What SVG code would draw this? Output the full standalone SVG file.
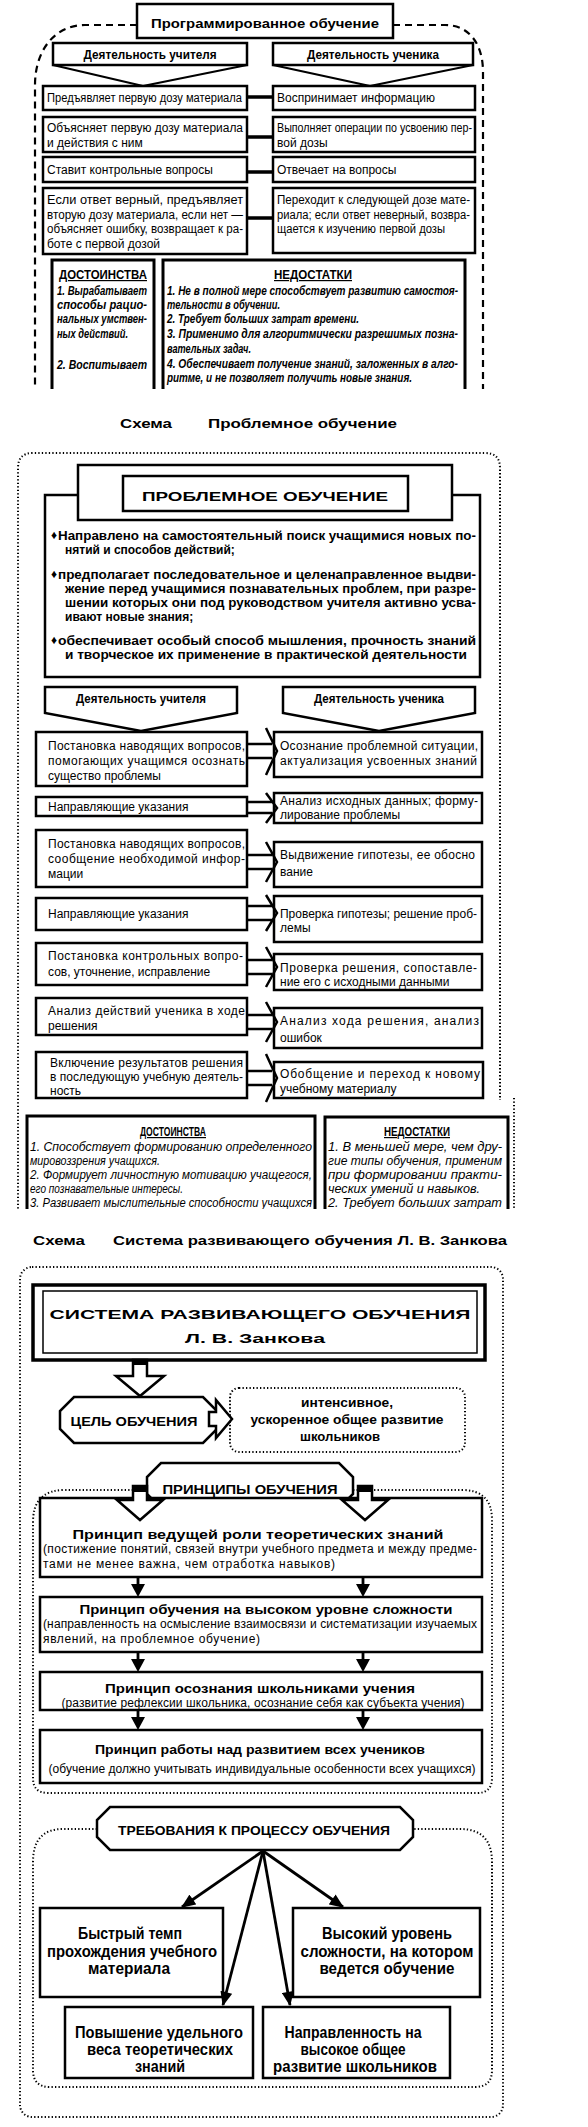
<svg xmlns="http://www.w3.org/2000/svg" width="588" height="2127" viewBox="0 0 588 2127">
<style>
text{font-family:"Liberation Sans",Arial,sans-serif;fill:#000;font-size:12px}
.b{font-weight:bold}
.i{font-style:italic}
.m{text-anchor:middle}
.u{text-decoration:underline}
.box{fill:#fff;stroke:#000;stroke-width:2.5}
.thin{fill:none;stroke:#000;stroke-width:1.5}
.open{fill:none;stroke:#000;stroke-width:3}
.dash{fill:none;stroke:#000;stroke-width:2.2;stroke-dasharray:7 5}
.dot{fill:none;stroke:#000;stroke-width:2;stroke-dasharray:1.3 2.2}
.ln{fill:none;stroke:#000;stroke-width:3.5}
.tl{fill:none;stroke:#000;stroke-width:2}
.ch{fill:none;stroke:#000;stroke-width:2.5;stroke-linejoin:miter}
.hol{fill:#fff;stroke:#000;stroke-width:2.5;stroke-linejoin:miter}
.blk{fill:#000;stroke:none}
.ar{fill:none;stroke:#000;stroke-width:2.8}
.q{font-size:16.5px;font-weight:bold;text-anchor:middle}
</style>
<defs>
<clipPath id="c1"><rect x="0" y="0" width="588" height="389"/></clipPath>
<clipPath id="c2"><rect x="0" y="440" width="588" height="769"/></clipPath>
<marker id="ah" viewBox="0 0 12 10" refX="11" refY="5" markerWidth="15" markerHeight="12" markerUnits="userSpaceOnUse" orient="auto"><path d="M0,0 L12,5 L0,10 z" fill="#000"/></marker>
</defs>
<rect x="0" y="0" width="588" height="2127" fill="#fff"/>

<!-- ================= SECTION 1 ================= -->
<g id="sec1" clip-path="url(#c1)">
<path class="dash" d="M137,25 H85 C55,25 35,50 35,85 V389"/>
<path class="dash" d="M393,25 H445 C470,25 483,45 483,72 V389"/>
<g id="s1-title"><rect class="box" x="137" y="4" width="256" height="34"/><text class="b m" x="265" y="27.5" font-size="16" textLength="228" lengthAdjust="spacingAndGlyphs">Программированное обучение</text></g>
<g id="s1-teacher"><rect class="box" x="53" y="43" width="194" height="22"/><text class="b m" x="150" y="58.5" textLength="133" lengthAdjust="spacingAndGlyphs">Деятельность учителя</text></g>
<g id="s1-student"><rect class="box" x="273" y="43" width="200" height="22"/><text class="b m" x="373" y="58.5" textLength="132" lengthAdjust="spacingAndGlyphs">Деятельность ученика</text></g>

<g id="s1-l1"><rect class="box" x="43" y="86" width="204" height="24"/><text x="47" y="101.5" textLength="195" lengthAdjust="spacingAndGlyphs">Предъявляет первую дозу материала</text></g>
<g id="s1-r1"><rect class="box" x="273" y="86" width="202" height="24"/><text x="277" y="101.5">Воспринимает информацию</text></g>
<g id="s1-l2"><rect class="box" x="43" y="117" width="204" height="35"/><text x="47" y="132" textLength="196" lengthAdjust="spacingAndGlyphs">Объясняет первую дозу материала</text><text x="47" y="147">и действия с ним</text></g>
<g id="s1-r2"><rect class="box" x="273" y="117" width="202" height="35"/><text x="277" y="132" textLength="195" lengthAdjust="spacingAndGlyphs">Выполняет операции по усвоению пер-</text><text x="277" y="147">вой дозы</text></g>
<g id="s1-l3"><rect class="box" x="43" y="157" width="204" height="25"/><text x="47" y="174">Ставит контрольные вопросы</text></g>
<g id="s1-r3"><rect class="box" x="273" y="157" width="202" height="25"/><text x="277" y="174">Отвечает на вопросы</text></g>
<g id="s1-l4"><rect class="box" x="43" y="188" width="204" height="66"/>
<text x="47" y="204" textLength="196" lengthAdjust="spacingAndGlyphs">Если ответ верный, предъявляет</text>
<text x="47" y="218.5" textLength="196" lengthAdjust="spacingAndGlyphs">вторую дозу материала, если нет —</text>
<text x="47" y="233" textLength="196" lengthAdjust="spacingAndGlyphs">объясняет ошибку, возвращает к ра-</text>
<text x="47" y="247.5">боте с первой дозой</text></g>
<g id="s1-r4"><rect class="box" x="273" y="188" width="202" height="65"/>
<text x="277" y="204" textLength="193" lengthAdjust="spacingAndGlyphs">Переходит к следующей дозе мате-</text>
<text x="277" y="218.5" textLength="193" lengthAdjust="spacingAndGlyphs">риала; если ответ неверный, возвра-</text>
<text x="277" y="233" textLength="168" lengthAdjust="spacingAndGlyphs">щается к изучению первой дозы</text></g>

<g id="s1-pros"><path class="open" d="M52,392 V260 H154 V392"/>
<text class="b m u" x="103" y="279" font-size="12.5" textLength="88" lengthAdjust="spacingAndGlyphs">ДОСТОИНСТВА</text>
<text class="b i" x="57" y="295" textLength="90" lengthAdjust="spacingAndGlyphs">1. Вырабатывает</text>
<text class="b i" x="57" y="309" textLength="90" lengthAdjust="spacingAndGlyphs">способы рацио-</text>
<text class="b i" x="57" y="323" textLength="90" lengthAdjust="spacingAndGlyphs">нальных умствен-</text>
<text class="b i" x="57" y="338" textLength="71" lengthAdjust="spacingAndGlyphs">ных действий.</text>
<text class="b i" x="57" y="369" textLength="90" lengthAdjust="spacingAndGlyphs">2. Воспитывает</text>
</g>
<g id="s1-cons"><path class="open" d="M163,392 V260 H465 V392"/>
<text class="b m u" x="313" y="279" font-size="12.5" textLength="78" lengthAdjust="spacingAndGlyphs">НЕДОСТАТКИ</text>
<text class="b i" x="167" y="295" textLength="291" lengthAdjust="spacingAndGlyphs">1. Не в полной мере способствует развитию самостоя-</text>
<text class="b i" x="167" y="309" textLength="113" lengthAdjust="spacingAndGlyphs">тельности в обучении.</text>
<text class="b i" x="167" y="323" textLength="192" lengthAdjust="spacingAndGlyphs">2. Требует больших затрат времени.</text>
<text class="b i" x="167" y="338" textLength="291" lengthAdjust="spacingAndGlyphs">3. Применимо для алгоритмически разрешимых позна-</text>
<text class="b i" x="167" y="353" textLength="84" lengthAdjust="spacingAndGlyphs">вательных задач.</text>
<text class="b i" x="167" y="368" textLength="291" lengthAdjust="spacingAndGlyphs">4. Обеспечивает получение знаний, заложенных в алго-</text>
<text class="b i" x="167" y="382" textLength="245" lengthAdjust="spacingAndGlyphs">ритме, и не позволяет получить новые знания.</text>
</g>
</g>

<g id="caption1">
<text class="b" x="120" y="428" font-size="20" textLength="52" lengthAdjust="spacingAndGlyphs">Схема</text>
<text class="b" x="208" y="428" font-size="20" textLength="189" lengthAdjust="spacingAndGlyphs">Проблемное обучение</text>
</g>

<!-- ================= SECTION 2 ================= -->
<g id="sec2" clip-path="url(#c2)">
<path class="dot" d="M18,1212 V468 Q18,453 33,453 H485 Q500,453 500,468 V1100"/>
<path class="dot" d="M514,1098 V1212"/>

<g id="s2-features"><rect class="box" x="45" y="495" width="435" height="182"/>
<text x="51" y="539" font-size="8">♦</text>
<text class="b" x="58" y="539.5" textLength="418" lengthAdjust="spacingAndGlyphs">Направлено на самостоятельный поиск учащимися новых по-</text>
<text class="b" x="65" y="554">нятий и способов действий;</text>
<text x="51" y="578" font-size="8">♦</text>
<text class="b" x="58" y="578.5" textLength="418" lengthAdjust="spacingAndGlyphs">предполагает последовательное и целенаправленное выдви-</text>
<text class="b" x="65" y="592.5" textLength="411" lengthAdjust="spacingAndGlyphs">жение перед учащимися познавательных проблем, при разре-</text>
<text class="b" x="65" y="606.5" textLength="411" lengthAdjust="spacingAndGlyphs">шении которых они под руководством учителя активно усва-</text>
<text class="b" x="65" y="620.5">ивают новые знания;</text>
<text x="51" y="644" font-size="8">♦</text>
<text class="b" x="58" y="644.5" textLength="418" lengthAdjust="spacingAndGlyphs">обеспечивает особый способ мышления, прочность знаний</text>
<text class="b" x="65" y="658.5" textLength="402" lengthAdjust="spacingAndGlyphs">и творческое их применение в практической деятельности</text>
</g>
<g id="s2-title"><rect class="box" x="78" y="465" width="374" height="55"/><rect class="box" x="123" y="476" width="285" height="35"/>
<text class="b m" x="265" y="501" font-size="21" textLength="246" lengthAdjust="spacingAndGlyphs">ПРОБЛЕМНОЕ ОБУЧЕНИЕ</text></g>

<g id="s2-teacher"><path class="box" d="M45,687 H237 V713 L141,731 L45,713 Z"/><text class="b m" x="141" y="703" textLength="130" lengthAdjust="spacingAndGlyphs">Деятельность учителя</text></g>
<g id="s2-student"><path class="box" d="M283,687 H475 V713 L379,731 L283,713 Z"/><text class="b m" x="379" y="703" textLength="130" lengthAdjust="spacingAndGlyphs">Деятельность ученика</text></g>

<g id="s2-l1"><rect class="box" x="36" y="732" width="211" height="54"/>
<text x="48" y="749.5" textLength="197" lengthAdjust="spacing">Постановка наводящих вопросов,</text>
<text x="48" y="764.5" textLength="197" lengthAdjust="spacing">помогающих учащимся осознать</text>
<text x="48" y="779.5">существо проблемы</text></g>
<g id="s2-r1"><rect class="box" x="274" y="732" width="208" height="45"/>
<text x="280" y="749.5" textLength="198" lengthAdjust="spacing">Осознание проблемной ситуации,</text>
<text x="280" y="764.5" textLength="197" lengthAdjust="spacing">актуализация усвоенных знаний</text></g>

<g id="s2-l2"><rect class="box" x="36" y="797" width="211" height="19"/>
<text x="48" y="811">Направляющие указания</text></g>
<g id="s2-r2"><rect class="box" x="274" y="793" width="208" height="30"/>
<text x="280" y="804.5" textLength="198" lengthAdjust="spacing">Анализ исходных данных; форму-</text>
<text x="280" y="819">лирование проблемы</text></g>

<g id="s2-l3"><rect class="box" x="36" y="830" width="211" height="57"/>
<text x="48" y="847.5" textLength="197" lengthAdjust="spacing">Постановка наводящих вопросов,</text>
<text x="48" y="862.5" textLength="197" lengthAdjust="spacing">сообщение необходимой инфор-</text>
<text x="48" y="877.5">мации</text></g>
<g id="s2-r3"><rect class="box" x="274" y="842" width="208" height="45"/>
<text x="280" y="858.5" textLength="195" lengthAdjust="spacing">Выдвижение гипотезы, ее обосно</text>
<text x="280" y="875.5">вание</text></g>

<g id="s2-l4"><rect class="box" x="36" y="898" width="211" height="32"/>
<text x="48" y="917.5">Направляющие указания</text></g>
<g id="s2-r4"><rect class="box" x="274" y="896" width="208" height="46"/>
<text x="280" y="917.5" textLength="197" lengthAdjust="spacing">Проверка гипотезы; решение проб-</text>
<text x="280" y="931.5">лемы</text></g>

<g id="s2-l5"><rect class="box" x="36" y="943" width="211" height="42"/>
<text x="48" y="959.5" textLength="195" lengthAdjust="spacing">Постановка контрольных вопро-</text>
<text x="48" y="975.5">сов, уточнение, исправление</text></g>
<g id="s2-r5"><rect class="box" x="274" y="954" width="208" height="36"/>
<text x="280" y="971.5" textLength="197" lengthAdjust="spacing">Проверка решения, сопоставле-</text>
<text x="280" y="985.5">ние его с исходными данными</text></g>

<g id="s2-l6"><rect class="box" x="36" y="998" width="211" height="37"/>
<text x="48" y="1014.5" textLength="197" lengthAdjust="spacing">Анализ действий ученика в ходе</text>
<text x="48" y="1029.5">решения</text></g>
<g id="s2-r6"><rect class="box" x="274" y="1008" width="208" height="40"/>
<text x="280" y="1024.5" textLength="199" lengthAdjust="spacing">Анализ хода решения, анализ</text>
<text x="280" y="1041.5">ошибок</text></g>

<g id="s2-l7"><rect class="box" x="36" y="1052" width="211" height="46"/>
<text x="50" y="1067" textLength="193" lengthAdjust="spacing">Включение результатов решения</text>
<text x="50" y="1081" textLength="193" lengthAdjust="spacing">в последующую учебную деятель-</text>
<text x="50" y="1095">ность</text></g>
<g id="s2-r7"><rect class="box" x="274" y="1062" width="209" height="36"/>
<text x="280" y="1077.5" textLength="200" lengthAdjust="spacing">Обобщение и переход к новому</text>
<text x="280" y="1092.5">учебному материалу</text></g>

<g id="s2-pros"><path class="open" d="M27,1215 V1116 H315 V1215"/>
<text class="b m u" x="173" y="1136" font-size="12" textLength="66" lengthAdjust="spacingAndGlyphs">ДОСТОИНСТВА</text>
<text class="i" x="30" y="1151" font-size="11.5" textLength="282" lengthAdjust="spacingAndGlyphs">1. Способствует формированию определенного</text>
<text class="i" x="30" y="1164.5" font-size="11.5" textLength="130" lengthAdjust="spacingAndGlyphs">мировоззрения учащихся.</text>
<text class="i" x="30" y="1179" font-size="11.5" textLength="282" lengthAdjust="spacingAndGlyphs">2. Формирует личностную мотивацию учащегося,</text>
<text class="i" x="30" y="1192.5" font-size="11.5" textLength="153" lengthAdjust="spacingAndGlyphs">его познавательные интересы.</text>
<text class="i" x="30" y="1207" font-size="11.5" textLength="282" lengthAdjust="spacingAndGlyphs">3. Развивает мыслительные способности учащихся</text>
</g>
<g id="s2-cons"><path class="open" d="M325,1215 V1117 H508 V1215"/>
<text class="b m u" x="417" y="1136" font-size="12" textLength="66" lengthAdjust="spacingAndGlyphs">НЕДОСТАТКИ</text>
<text class="i" x="328" y="1151" font-size="11.5" textLength="174" lengthAdjust="spacingAndGlyphs">1. В меньшей мере, чем дру-</text>
<text class="i" x="328" y="1164.5" font-size="11.5" textLength="174" lengthAdjust="spacingAndGlyphs">гие типы обучения, применим</text>
<text class="i" x="328" y="1179" font-size="11.5" textLength="174" lengthAdjust="spacingAndGlyphs">при формировании практи-</text>
<text class="i" x="328" y="1192.5" font-size="11.5" textLength="152" lengthAdjust="spacingAndGlyphs">ческих умений и навыков.</text>
<text class="i" x="328" y="1207" font-size="11.5" textLength="174" lengthAdjust="spacingAndGlyphs">2. Требует больших затрат</text>
</g>
</g>

<g id="caption2">
<text class="b" x="33" y="1245" font-size="20" textLength="52" lengthAdjust="spacingAndGlyphs">Схема</text>
<text class="b" x="113" y="1245" font-size="20" textLength="394" lengthAdjust="spacingAndGlyphs">Система развивающего обучения Л. В. Занкова</text>
</g>

<!-- ================= SECTION 3 ================= -->
<g id="sec3">
<rect class="dot" x="20" y="1267" width="483" height="850" rx="12"/>
<g id="s3-title"><rect x="33" y="1285" width="452" height="75" fill="#fff" stroke="#000" stroke-width="3.5"/><rect class="thin" x="43" y="1291" width="434" height="62"/>
<text class="b m" x="260" y="1318.5" font-size="23" textLength="421" lengthAdjust="spacingAndGlyphs">СИСТЕМА РАЗВИВАЮЩЕГО ОБУЧЕНИЯ</text>
<text class="b m" x="255" y="1342.5" font-size="23" textLength="140" lengthAdjust="spacingAndGlyphs">Л. В. Занкова</text></g>

<g id="s3-goal"><path class="box" d="M74,1397 H203 L217,1411 V1429 L203,1443 H74 L60,1429 V1411 Z"/>
<text class="b m" x="134" y="1425.5" font-size="18" textLength="127" lengthAdjust="spacingAndGlyphs">ЦЕЛЬ ОБУЧЕНИЯ</text></g>
<g id="s3-goaltext"><rect class="dot" x="230" y="1388" width="235" height="64" rx="9"/>
<text class="b m" x="347" y="1407" font-size="15" textLength="92" lengthAdjust="spacingAndGlyphs">интенсивное,</text>
<text class="b m" x="347" y="1424" font-size="15" textLength="193" lengthAdjust="spacingAndGlyphs">ускоренное общее развитие</text>
<text class="b m" x="340" y="1441" font-size="15" textLength="80" lengthAdjust="spacingAndGlyphs">школьников</text></g>

<path id="s3-prin-area" class="dot" d="M147,1490 H65 Q33,1490 33,1522 V1778 Q33,1793 48,1793 H477 Q492,1793 492,1778 V1520 Q492,1490 462,1490 H353"/>
<g id="s3-principles"><path class="box" d="M161,1463 H339 L353,1477 V1494 L339,1508 H161 L147,1494 V1477 Z"/>
<text class="b m" x="250" y="1493.5" font-size="18" textLength="175" lengthAdjust="spacingAndGlyphs">ПРИНЦИПЫ ОБУЧЕНИЯ</text></g>

<g id="s3-p1"><rect class="box" x="40" y="1498" width="442" height="79"/>
<text class="b m" x="258" y="1538.5" font-size="17" textLength="371" lengthAdjust="spacingAndGlyphs">Принцип ведущей роли теоретических знаний</text>
<text x="43" y="1552.5" font-size="12.5" textLength="434" lengthAdjust="spacing">(постижение понятий, связей внутри учебного предмета и между предме-</text>
<text x="43" y="1567.5" font-size="12.5" textLength="292" lengthAdjust="spacing">тами не менее важна, чем отработка навыков)</text></g>
<g id="s3-p2"><rect class="box" x="40" y="1597" width="442" height="55"/>
<text class="b m" x="266" y="1613.5" font-size="17" textLength="373" lengthAdjust="spacingAndGlyphs">Принцип обучения на высоком уровне сложности</text>
<text x="43" y="1627.5" font-size="12.5" textLength="434" lengthAdjust="spacing">(направленность на осмысление взаимосвязи и систематизации изучаемых</text>
<text x="43" y="1642.5" font-size="12.5" textLength="217" lengthAdjust="spacing">явлений, на проблемное обучение)</text></g>
<g id="s3-p3"><rect class="box" x="40" y="1672" width="442" height="38"/>
<text class="b m" x="260" y="1693" font-size="17" textLength="310" lengthAdjust="spacingAndGlyphs">Принцип осознания школьниками учения</text>
<text class="m" x="263" y="1706.5" font-size="12.5" textLength="403" lengthAdjust="spacing">(развитие рефлексии школьника, осознание себя как субъекта учения)</text></g>
<g id="s3-p4"><rect class="box" x="40" y="1730" width="442" height="53"/>
<text class="b m" x="260" y="1753.5" font-size="17" textLength="330" lengthAdjust="spacingAndGlyphs" fill="#222">Принцип работы над развитием всех учеников</text>
<text class="m" x="262" y="1772.5" font-size="12.5" textLength="427" lengthAdjust="spacing">(обучение должно учитывать индивидуальные особенности всех учащихся)</text></g>

<path id="s3-req-area" class="dot" d="M97,1829 H63 Q33,1829 33,1862 V2070 Q33,2087 50,2087 H475 Q492,2087 492,2070 V1862 Q492,1829 460,1829 H413"/>
<g id="s3-req"><path class="box" d="M110,1807 H400 L413,1820 V1837 L400,1850 H110 L97,1837 V1820 Z"/>
<text class="b m" x="254" y="1835" font-size="17" textLength="272" lengthAdjust="spacingAndGlyphs">ТРЕБОВАНИЯ К ПРОЦЕССУ ОБУЧЕНИЯ</text></g>

<g id="s3-q1"><rect class="box" x="40" y="1908" width="183" height="89"/>
<text class="q" x="130" y="1939" textLength="104" lengthAdjust="spacingAndGlyphs">Быстрый темп</text>
<text class="q" x="132" y="1956.5" textLength="170" lengthAdjust="spacingAndGlyphs">прохождения учебного</text>
<text class="q" x="129" y="1974" textLength="82" lengthAdjust="spacingAndGlyphs">материала</text></g>
<g id="s3-q2"><rect class="box" x="293" y="1908" width="187" height="89"/>
<text class="q" x="387" y="1939" textLength="130" lengthAdjust="spacingAndGlyphs">Высокий уровень</text>
<text class="q" x="387" y="1956.5" textLength="173" lengthAdjust="spacingAndGlyphs">сложности, на котором</text>
<text class="q" x="387" y="1974" textLength="135" lengthAdjust="spacingAndGlyphs">ведется обучение</text></g>
<g id="s3-q3"><rect class="box" x="65" y="2007" width="188" height="71"/>
<text class="q" x="159" y="2038" textLength="168" lengthAdjust="spacingAndGlyphs">Повышение удельного</text>
<text class="q" x="160" y="2054.5" textLength="146" lengthAdjust="spacingAndGlyphs">веса теоретических</text>
<text class="q" x="160" y="2072" textLength="50" lengthAdjust="spacingAndGlyphs">знаний</text></g>
<g id="s3-q4"><rect class="box" x="263" y="2007" width="187" height="71"/>
<text class="q" x="353" y="2038" textLength="137" lengthAdjust="spacingAndGlyphs">Направленность на</text>
<text class="q" x="353" y="2054.5" textLength="105" lengthAdjust="spacingAndGlyphs">высокое общее</text>
<text class="q" x="355" y="2072" textLength="164" lengthAdjust="spacingAndGlyphs">развитие школьников</text></g>
</g>

<!-- ================= CONNECTORS ================= -->
<g id="connectors">
<path class="tl" d="M53,65 L143,86 M247,65 L143,86 M273,65 L370,86 M473,65 L370,86"/>
<path class="ln" d="M247,97 H273 M247,137 H273 M247,172 H273 M247,218 H273"/>

<path class="ch" d="M247,744 H272 M247,758 H272 M266,728 L277,751 L266,775"/>
<path class="ch" d="M247,802 H272 M247,813 H272 M266,793 L277,808 L266,823"/>
<path class="ch" d="M247,855 H272 M247,869 H272 M266,842 L277,862 L266,882"/>
<path class="ch" d="M247,906 H272 M247,920 H272 M266,895 L277,913 L266,931"/>
<path class="ch" d="M247,960 H272 M247,974 H272 M266,947 L277,967 L266,987"/>
<path class="ch" d="M247,1015 H272 M247,1029 H272 M266,1002 L277,1022 L266,1042"/>
<path class="ch" d="M247,1071 H272 M247,1085 H272 M266,1054 L277,1078 L266,1102"/>

<polygon class="hol" points="133,1360 147,1360 147,1376 164,1376 140,1396 116,1376 133,1376"/>
<rect class="blk" x="133" y="1360" width="14" height="5"/>
<polygon class="hol" points="209,1412 216,1412 216,1400 232,1419 216,1438 216,1426 209,1426"/>

<polygon class="hol" points="133,1486 147,1486 147,1500 163,1500 140,1520 117,1500 133,1500"/>
<rect class="blk" x="133" y="1486" width="14" height="6"/>
<polygon class="hol" points="358,1486 372,1486 372,1500 388,1500 365,1520 342,1500 358,1500"/>
<rect class="blk" x="358" y="1486" width="14" height="6"/>

<path class="ar" d="M138,1577 V1586 M363,1577 V1586 M138,1652 V1661 M363,1652 V1661 M138,1710 V1719 M363,1710 V1719"/>
<polygon class="blk" points="131,1584 145,1584 138,1597"/>
<polygon class="blk" points="356,1584 370,1584 363,1597"/>
<polygon class="blk" points="131,1659 145,1659 138,1672"/>
<polygon class="blk" points="356,1659 370,1659 363,1672"/>
<polygon class="blk" points="131,1717 145,1717 138,1730"/>
<polygon class="blk" points="356,1717 370,1717 363,1730"/>

<path class="ar" marker-end="url(#ah)" d="M263,1851 L182,1907"/>
<path class="ar" marker-end="url(#ah)" d="M263,1851 L343,1907"/>
<path class="ar" marker-end="url(#ah)" d="M263,1851 L223,2005"/>
<path class="ar" marker-end="url(#ah)" d="M263,1851 L290,2005"/>
</g>
</svg>
